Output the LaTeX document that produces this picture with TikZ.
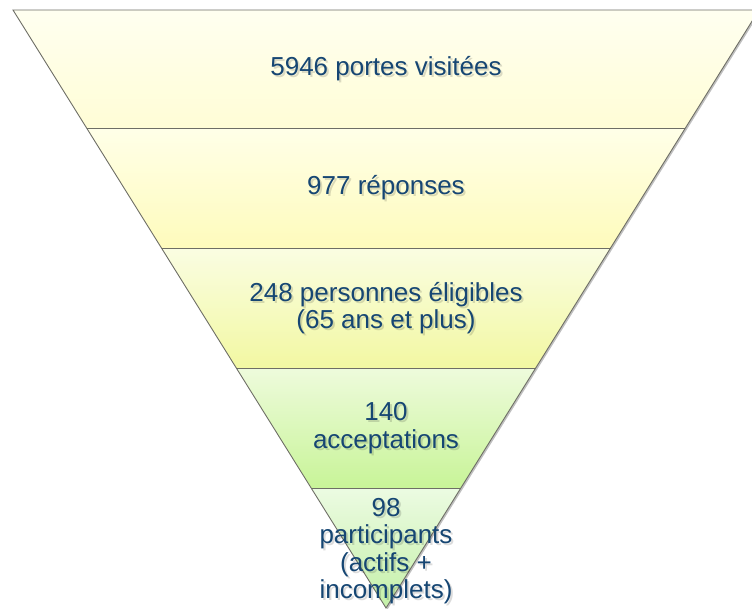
\documentclass[tikz,border=0pt]{standalone}
\usepackage{fontspec}
\setmainfont{Liberation Sans}
\definecolor{txtblue}{RGB}{22,70,115}
\definecolor{edgegray}{RGB}{110,110,102}
\begin{document}
\begin{tikzpicture}[x=1pt,y=-1pt,
  lbl/.style={align=center,text=txtblue,font=\fontsize{26}{27.5}\selectfont,inner sep=0pt},
  lblshadow/.style={lbl,text=black,text opacity=0.14},
  layer/.style={draw=edgegray,line width=0.9pt,line join=miter}]
\useasboundingbox (0,0) rectangle (752,608);
\clip (0,0) rectangle (752,608);
% shadow of funnel
\fill[black,opacity=0.25] (14.5,11.5) -- (760.5,11.5) -- (387.5,609.5) -- cycle;
% layers
\shade[top color={rgb,255:red,255;green,255;blue,240}, bottom color={rgb,255:red,255;green,253;blue,214}]
  (13,10) -- (759,10) -- (685.4,128) -- (86.6,128) -- cycle;
\shade[top color={rgb,255:red,255;green,255;blue,232}, bottom color={rgb,255:red,254;green,251;blue,188}]
  (86.6,128) -- (685.4,128) -- (610.5,248) -- (161.5,248) -- cycle;
\shade[top color={rgb,255:red,250;green,253;blue,226}, bottom color={rgb,255:red,242;green,248;blue,162}]
  (161.5,248) -- (610.5,248) -- (535.7,368) -- (236.3,368) -- cycle;
\shade[top color={rgb,255:red,238;green,251;blue,220}, bottom color={rgb,255:red,200;green,244;blue,152}]
  (236.3,368) -- (535.7,368) -- (460.8,488) -- (311.2,488) -- cycle;
\shade[top color={rgb,255:red,236;green,251;blue,226}, bottom color={rgb,255:red,196;green,240;blue,168}]
  (311.2,488) -- (460.8,488) -- (386,608) -- cycle;
% outlines
\draw[layer] (13,10) -- (759,10) -- (386,608) -- cycle;
\draw[layer] (86.6,128) -- (685.4,128);
\draw[layer] (161.5,248) -- (610.5,248);
\draw[layer] (236.3,368) -- (535.7,368);
\draw[layer] (311.2,488) -- (460.8,488);
% text shadows
\node[lblshadow] (s1) at (388,71) {5946 portes visitées};
\node[lblshadow] (s2) at (388,190) {977 réponses};
\node[lblshadow] (s3) at (388,310) {248 personnes éligibles\\(65 ans et plus)};
\node[lblshadow] (s4) at (388,430) {140\\acceptations};
\node[lblshadow] (s5) at (388,553) {98\\participants\\(actifs +\\incomplets)};
% labels
\node[lbl] (t1) at (386,69) {5946 portes visitées};
\node[lbl] (t2) at (386,188) {977 réponses};
\node[lbl] (t3) at (386,308) {248 personnes éligibles\\(65 ans et plus)};
\node[lbl] (t4) at (386,428) {140\\acceptations};
\node[lbl] (t5) at (386,551) {98\\participants\\(actifs +\\incomplets)};
\end{tikzpicture}
\end{document}
